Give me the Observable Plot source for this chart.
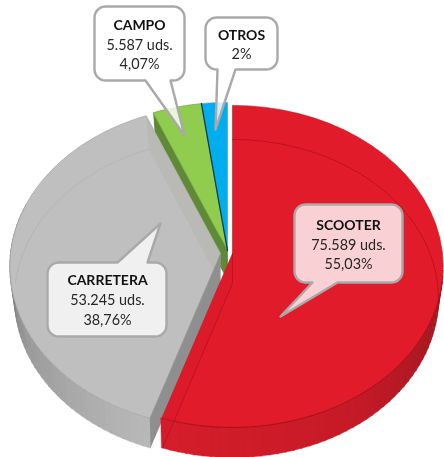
<!DOCTYPE html>
<html><head><meta charset="utf-8">
<script src="https://cdn.jsdelivr.net/npm/d3@7"></script>
<script src="https://cdn.jsdelivr.net/npm/@observablehq/plot@0.6"></script>
<style>html,body{margin:0;padding:0;background:#fff}svg{display:block;filter:blur(.35px)}</style>
</head><body><div id="chart"></div>
<script>
const categories = ["SCOOTER", "CARRETERA", "CAMPO", "OTROS"];
const percents = [55.03, 38.76, 4.07, 2.14];
const unitLabels = ["75.589 uds.", "53.245 uds.", "5.587 uds.", null];
const percentLabels = ["55,03%", "38,76%", "4,07%", "2%"];

// Perspective of the tilted disc (upper face and lower face of the pie)
const topFace = {k: .0805, rx: 210, ry: 160, dy: 0};
const lowFace = {k: .0945, rx: 205, ry: 157.6, dy: 30};
// Exploded centre of each slice
const centres = [[232, 253], [220, 253], [227, 250], [227, 250]];
const faceFill = ["#e21b2a", "#bfbfbf", "#90cc4e", "#00aeef"];
const sideFill = ["#b5121f", "#8f8f8f", "#5f8a35", "#0c3c58"];
const lineFill = ["#b0101c", "#b2b2b2", "#6f9a3f", "#0c3c58"];
// Wall shading from the start of the visible arc to its end
const wallRamp = [["#96171e", "#c51a27", "#d61d2b"], ["#b9b9b9", "#9a9a9a", "#5c5c5c"]];
const wallSpan = [[96, 198], [198, 288]];

// Callouts: box [left, top, right, bottom], tail base on the box edge, tail tip, text centre
const boxes = [[294, 204, 402, 282], [47, 262, 166, 336], [94, 6, 184, 80], [205, 17, 277, 69]];
const tailBase = [[337, 312], [117, 147], [170, 145], [235, 217]];
const tailTip = [[280, 316], [160, 223], [184, 135], [215, 129]];
const textX = [348, 107, 139, 241];
const textY = [[225, 244.5, 264], [280, 300, 319.5], [25, 44.5, 64], [35, 54]];
const boxFill = ["rgba(255,255,255,.8)", "rgba(255,255,255,.76)", "rgba(255,255,255,.8)", "rgba(255,255,255,.8)"];

const rad = d => d * Math.PI / 180;
const pt = (f, c, deg, r = 1) => {
  const s = Math.sin(rad(deg)), o = Math.cos(rad(deg)), d = 1 + f.k * o * r;
  return {x: c[0] + f.rx * s * r / d, y: c[1] + f.dy - f.ry * o * r / d};
};
const arc = (f, c, a, b) => d3.range(0, 41).map(i => pt(f, c, a + (b - a) * i / 40));
const total = d3.sum(percents);
let acc = 0;
const angles = percents.map(p => { const a = acc; acc += p / total * 360; return [a, acc]; });

const poly = (pts, o) => Plot.line([...pts, pts[0]], {x: "x", y: "y", stroke: "none", ...o});
const path = (pts, o) => Plot.line(pts, {x: "x", y: "y", ...o});

function wedge(i) {
  const c = centres[i], [a, b] = angles[i];
  return [{x: c[0], y: c[1]}, ...arc(topFace, c, a, b)];
}
function side(i, deg) {
  const c = centres[i];
  return [{x: c[0], y: c[1]}, pt(topFace, c, deg), pt(lowFace, c, deg), {x: c[0], y: c[1] + lowFace.dy}];
}
function walls(i) {
  const c = centres[i], [a, b] = wallSpan[i], n = 48, ramp = d3.scaleLinear().domain([0, .5, 1]).range(wallRamp[i]);
  return d3.range(n).map(j => {
    const t0 = a + (b - a) * j / n, t1 = a + (b - a) * (j + 1) / n, col = ramp((j + .5) / n);
    return poly([pt(topFace, c, t0), pt(topFace, c, t1 + .4), pt(lowFace, c, t1 + .4), pt(lowFace, c, t0)],
      {fill: col, stroke: col, strokeWidth: .4});
  });
}
function bubble(i) {
  const [l, t, r, b] = boxes[i], R = 11, [b0, b1] = tailBase[i], tip = tailTip[i];
  const corner = (cx, cy, a0) => d3.range(0, 7).map(j => ({
    x: cx + R * Math.cos(rad(a0 + j * 15)), y: cy + R * Math.sin(rad(a0 + j * 15))}));
  const tail = {x: tip[0], y: tip[1]};
  const isTop = tip[1] < t;
  return [
    ...corner(l + R, t + R, 180),
    ...(isTop ? [{x: Math.min(b0, b1), y: t}, tail, {x: Math.max(b0, b1), y: t}] : []),
    ...corner(r - R, t + R, 270),
    ...corner(r - R, b - R, 0),
    ...(isTop ? [] : [{x: Math.max(b0, b1), y: b}, tail, {x: Math.min(b0, b1), y: b}]),
    ...corner(l + R, b - R, 90)
  ];
}

const [rA, rB] = angles[0], [gA, gB] = angles[1], [vA, vB] = angles[2], [oA, oB] = angles[3];
const marks = [
  // blue and green slices, lying behind
  poly(side(3, oA), {fill: "#0c3c58"}),
  poly(wedge(3), {fill: faceFill[3], stroke: "#5b9fc0", strokeWidth: .7}),
  poly(side(2, vA), {fill: sideFill[2]}),
  poly(wedge(2), {fill: faceFill[2], stroke: "#6f9a3f", strokeWidth: .7}),
  path([{x: centres[2][0], y: centres[2][1]}, pt(topFace, centres[2], vB)], {stroke: "#0c3c58", strokeWidth: 1.3}),
  // grey slice
  ...walls(1),
  poly(wedge(1), {fill: faceFill[1], stroke: "#a8a8a8", strokeWidth: .8}),
  poly(side(1, gB), {fill: "#b4b4ae", fillOpacity: .55}),
  poly(side(1, gA), {fill: sideFill[1]}),
  path(arc(lowFace, centres[1], 270, gB), {stroke: lineFill[1], strokeWidth: .8}),
  // red slice
  ...walls(0),
  poly(wedge(0), {fill: faceFill[0], stroke: "#c8141f", strokeWidth: .6}),
  path(arc(lowFace, centres[0], 0, 96), {stroke: lineFill[0], strokeWidth: .8}),
  path(arc(topFace, centres[0], 100, rB), {stroke: "#a80f1a", strokeWidth: 1}),
  poly([{x: centres[0][0], y: centres[0][1]}, pt(topFace, centres[0], rB), pt(lowFace, centres[0], rB), {x: centres[0][0], y: centres[0][1] + lowFace.dy}],
    {fill: "#d41a29", fillOpacity: .45}),
  path([{x: centres[0][0], y: centres[0][1]}, {x: centres[0][0], y: centres[0][1] + lowFace.dy}, pt(lowFace, centres[0], rB)], {stroke: lineFill[0], strokeWidth: .7}),
  // callouts
  ...categories.map((_, i) => poly(bubble(i), {fill: boxFill[i], stroke: "#a9a9a9", strokeWidth: 2.4, strokeLinejoin: "round"})),
  Plot.text(categories.map((t, i) => ({x: textX[i], y: textY[i][0], t})), {
    x: "x", y: "y", text: "t", fontWeight: "bold", fontSize: 14, fill: "#111"}),
  Plot.text(categories.flatMap((_, i) => [unitLabels[i], percentLabels[i]].filter(Boolean)
      .map((t, j) => ({x: textX[i], y: textY[i][j + 1], t}))), {
    x: "x", y: "y", text: "t", fontSize: 14.4, fill: "#262626"})
];

const plot = Plot.plot({
  width: 444, height: 457, margin: 0, style: {fontFamily: "Lato, sans-serif", background: "#fff"},
  x: {domain: [0, 444], range: [0, 444], axis: null},
  y: {domain: [0, 457], range: [0, 457], axis: null},
  marks
});
document.getElementById("chart").appendChild(plot);
</script></body></html>
